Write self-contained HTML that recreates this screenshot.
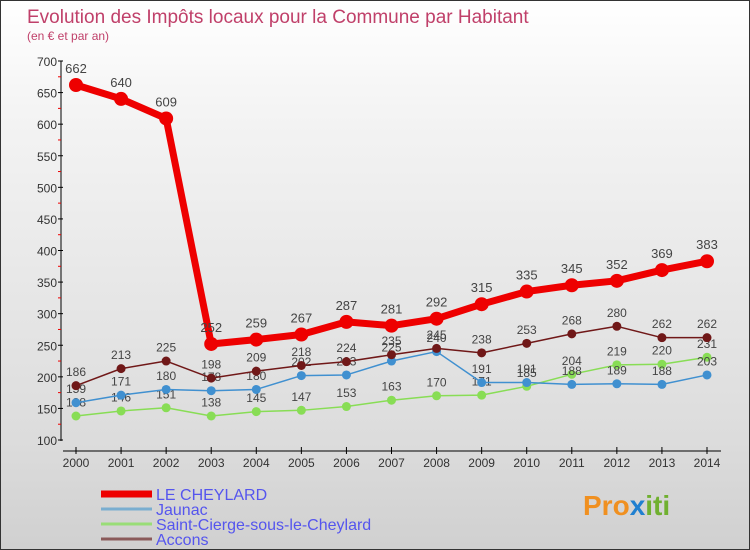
<!DOCTYPE html>
<html><head><meta charset="utf-8"><style>
body{margin:0}
#c{width:748px;height:548px;border:1px solid #333;background:linear-gradient(#fff,#f4f4f4 20%,#dcdcdc 80%,#d0d0d0);position:relative;font-family:"Liberation Sans",sans-serif;overflow:hidden}
svg text{font-family:"Liberation Sans",sans-serif}
</style></head><body>
<div id="c">
<svg id="s" width="748" height="548" xmlns="http://www.w3.org/2000/svg">
<text x="26" y="22" font-size="19" fill="#c0406a">Evolution des Impôts locaux pour la Commune par Habitant</text>
<text x="26" y="39" font-size="12" fill="#c0406a">(en € et par an)</text>
<g id="axes"></g><g id="series"></g>
<g id="legend"></g>
<text x="582" y="514" font-size="28" font-weight="bold" fill="#f09020">Pro<tspan fill="#2080d0">x</tspan><tspan fill="#70b030">iti</tspan></text>
</svg></div>
<script>
const years=[2000,2001,2002,2003,2004,2005,2006,2007,2008,2009,2010,2011,2012,2013,2014];
const yTicks=[100,150,200,250,300,350,400,450,500,550,600,650,700];
const cheylard=[662,640,609,252,259,267,287,281,292,315,335,345,352,369,383];
const jaunac=[159,171,180,178,180,202,203,225,240,191,191,188,189,188,203];
const cierge=[138,146,151,138,145,147,153,163,170,171,185,204,219,220,231];
const accons=[186,213,225,198,209,218,224,235,245,238,253,268,280,262,262];
const NS="http://www.w3.org/2000/svg";
const X=i=>75+i*(631/14), Y=v=>439-(v-100)*(379/600);
function mk(p,t,a){const e=document.createElementNS(NS,t);for(const k in a)e.setAttribute(k,a[k]);p.appendChild(e);return e;}
const ax=document.getElementById('axes');
let l=mk(ax,'line',{x1:60,y1:60,x2:60,y2:440,stroke:'#000'});

l=mk(ax,'line',{x1:62,y1:450,x2:720,y2:450,stroke:'#000'});

yTicks.forEach((v,i)=>{mk(ax,'line',{x1:57,y1:Y(v),x2:62,y2:Y(v),stroke:'#000'});
 if(i<yTicks.length-1)mk(ax,'line',{x1:57,y1:Y(v+25),x2:60,y2:Y(v+25),stroke:'#e00'});
 const t=mk(ax,'text',{x:56,y:Y(v)+5,'font-size':12,fill:'#333','text-anchor':'end'});t.textContent=v;
 });
years.forEach((y,i)=>{mk(ax,'line',{x1:X(i),y1:446,x2:X(i),y2:453,stroke:'#000'});
 const t=mk(ax,'text',{x:X(i),y:466,'font-size':12,fill:'#333','text-anchor':'middle'});t.textContent=y;
 });
const sg=document.getElementById('series');
function draw(d,col,w,r,name,fs){const g=mk(sg,'g',{});
 
 mk(g,'polyline',{points:d.map((v,i)=>X(i)+','+Y(v)).join(' '),fill:'none',stroke:col,'stroke-width':w,'stroke-linejoin':'round'});
 d.forEach((v,i)=>{const c=mk(g,'circle',{cx:X(i),cy:Y(v),r:r,fill:col});
  
  const t=mk(g,'text',{x:X(i),y:Y(v)-r-5,'font-size':fs,fill:'#444','text-anchor':'middle'});t.textContent=v;
  });}
draw(cierge,'#88dd55',1.5,4.5,'series-saint-cierge',12);
draw(jaunac,'#4090d0',1.5,4.5,'series-jaunac',12);
draw(accons,'#701818',1.5,4.5,'series-accons',12);
draw(cheylard,'#ee0000',7,7,'series-le-cheylard',13);
const lg=document.getElementById('legend');
[['LE CHEYLARD','#ee0000',7],['Jaunac','#7aaed0',3],['Saint-Cierge-sous-le-Cheylard','#99dd77',3],['Accons','#8a5a5a',3]].forEach((e,i)=>{
 const y=493+i*15;const g=mk(lg,'g',{});
 
 mk(g,'line',{x1:100,y1:y,x2:151,y2:y,stroke:e[1],'stroke-width':e[2]});
 const t=mk(g,'text',{x:155,y:y+6,'font-size':16,fill:'#5555ee'});t.textContent=e[0];});
</script></body></html>
